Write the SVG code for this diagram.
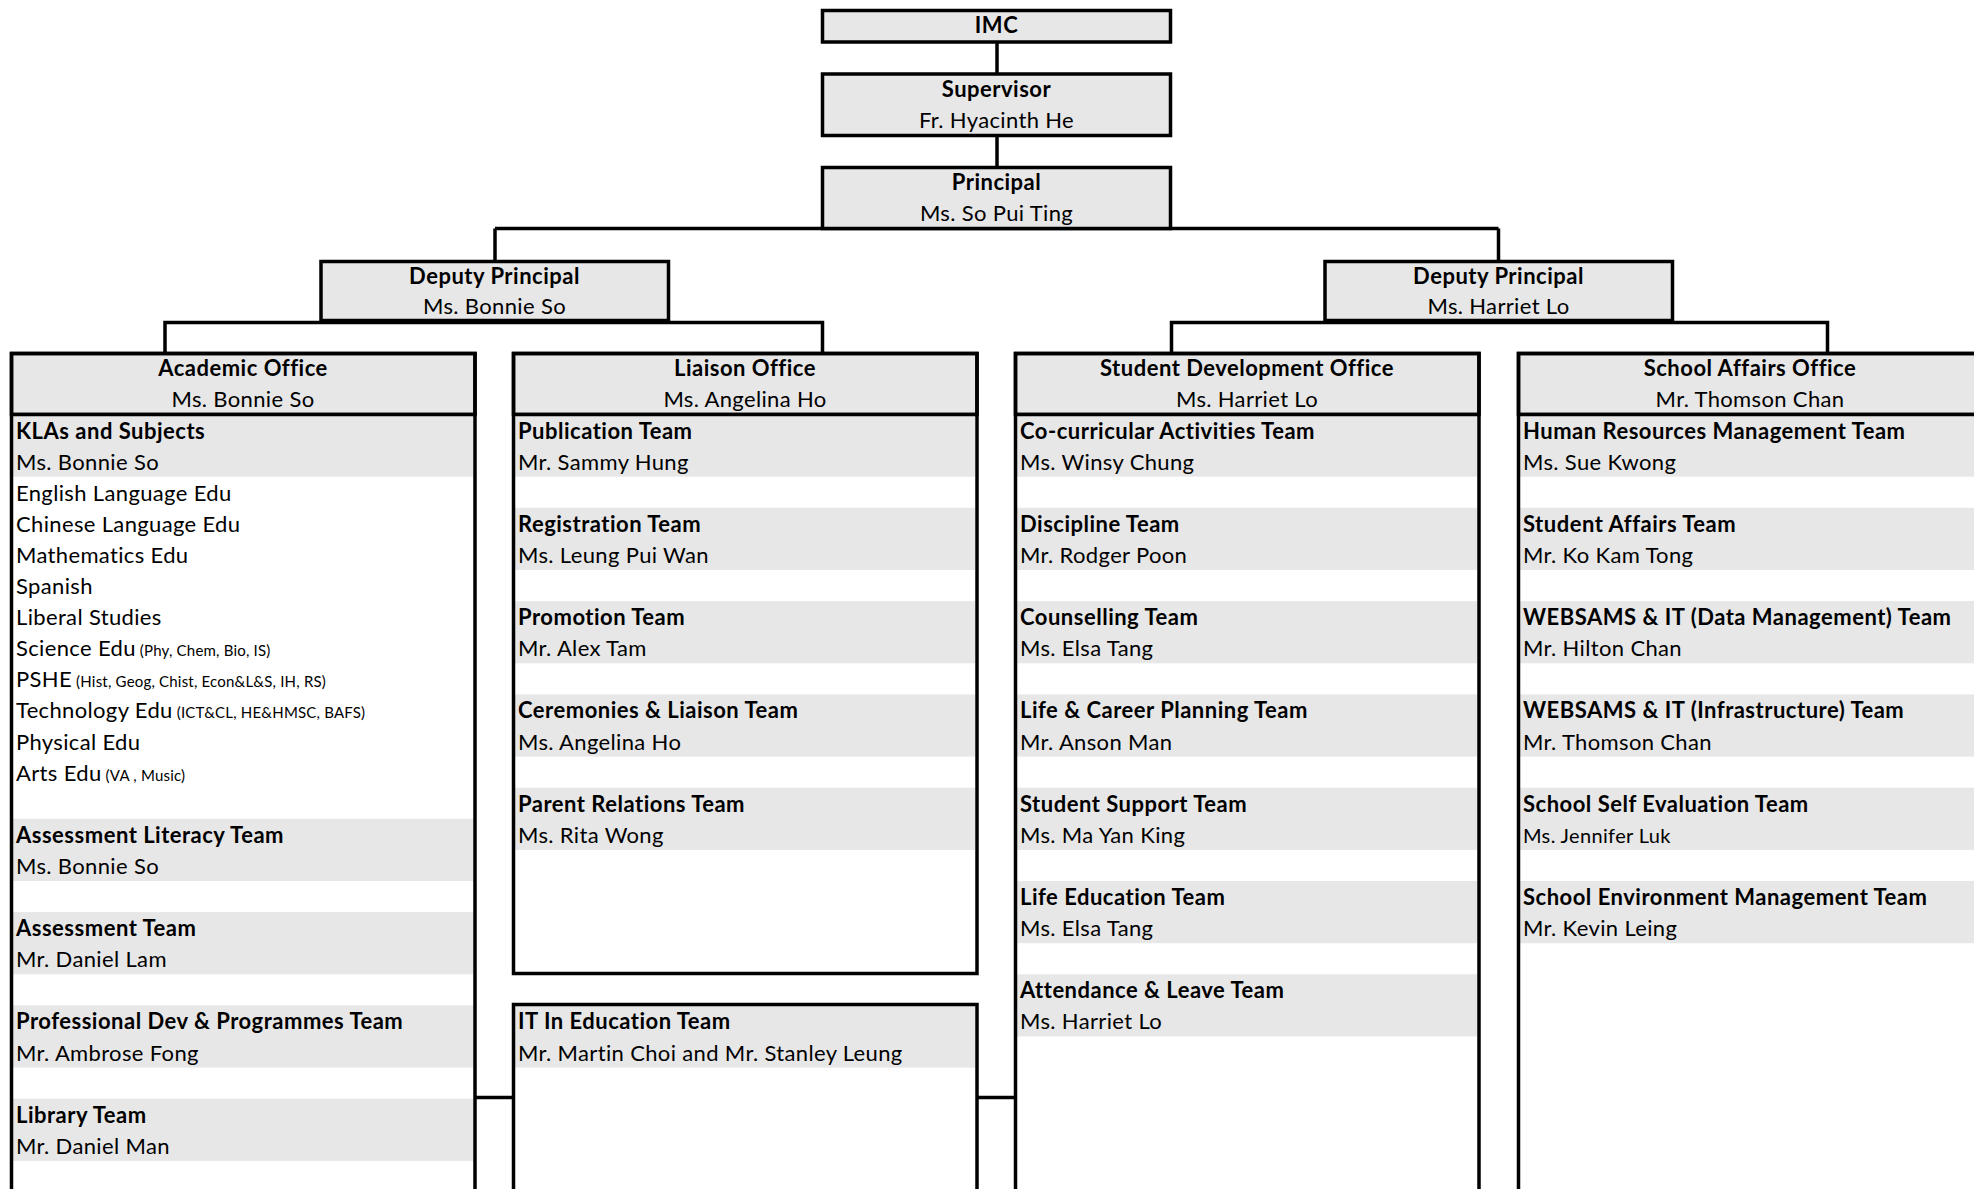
<svg xmlns="http://www.w3.org/2000/svg" width="1974" height="1189" viewBox="0 0 1974 1189">
<style>
  text { font-family: Lato, "Liberation Sans", sans-serif; font-size: 22px; letter-spacing: 0.35px; fill: #000; }
  .b { font-weight: bold; letter-spacing: 0.5px; }
  .c { text-anchor: middle; }
  .s { font-size: 15px; letter-spacing: 0.2px; }
  .sm { font-size: 20px; }
  .box { fill: #e7e7e7; stroke: #000; stroke-width: 3.5; }
  .frame { fill: none; stroke: #000; stroke-width: 3.5; }
  .band { fill: #e7e7e7; }
  .ln { fill: none; stroke: #000; stroke-width: 3.5; }
</style>
<rect width="1974" height="1189" fill="#fff"/>

<g id="connectors">
  <line class="ln" x1="997" y1="42" x2="997" y2="74"/>
  <line class="ln" x1="997" y1="135.5" x2="997" y2="167.5"/>
  <line class="ln" x1="495" y1="228.5" x2="1498.5" y2="228.5"/>
  <line class="ln" x1="495" y1="228.5" x2="495" y2="261.5"/>
  <line class="ln" x1="1498.5" y1="228.5" x2="1498.5" y2="261.5"/>
  <path class="ln" d="M165,353.5 V322.5 H822.5 V353.5"/>
  <path class="ln" d="M1171.5,353.5 V322.5 H1827.5 V353.5"/>
  <line class="ln" x1="475" y1="1097.5" x2="513.5" y2="1097.5"/>
  <line class="ln" x1="977" y1="1097.5" x2="1015.5" y2="1097.5"/>
</g>

<g id="imc">
  <rect class="box" x="822.5" y="10.5" width="348" height="31.5"/>
  <text class="b c" x="996.5" y="33">IMC</text>
</g>
<g id="supervisor">
  <rect class="box" x="822.5" y="74" width="348" height="61.5"/>
  <text class="b c" x="996.5" y="97">Supervisor</text>
  <text class="c" x="996.5" y="128">Fr. Hyacinth He</text>
</g>
<g id="principal">
  <rect class="box" x="822.5" y="167.5" width="348" height="61"/>
  <text class="b c" x="996.5" y="190">Principal</text>
  <text class="c" x="996.5" y="221">Ms. So Pui Ting</text>
</g>
<g id="deputy-left">
  <rect class="box" x="321" y="261.5" width="347.5" height="59"/>
  <text class="b c" x="494.5" y="283.5">Deputy Principal</text>
  <text class="c" x="494.5" y="314">Ms. Bonnie So</text>
</g>
<g id="deputy-right">
  <rect class="box" x="1325" y="261.5" width="347.5" height="59"/>
  <text class="b c" x="1498.5" y="283.5">Deputy Principal</text>
  <text class="c" x="1498.5" y="314">Ms. Harriet Lo</text>
</g>

<!-- Academic Office -->
<g id="academic-office">
  <rect class="box" x="11.5" y="353.5" width="463.5" height="61"/>
  <rect class="band" x="13" y="414.5" width="460" height="62.2"/>
  <rect class="band" x="13" y="818.8" width="460" height="62.2"/>
  <rect class="band" x="13" y="912.1" width="460" height="62.2"/>
  <rect class="band" x="13" y="1005.4" width="460" height="62.2"/>
  <rect class="band" x="13" y="1098.7" width="460" height="62.2"/>
  <path class="frame" d="M11.5,1200 V353.5 H475 V1200"/>
  <line class="ln" x1="11.5" y1="414.5" x2="475" y2="414.5"/>
  <text class="b c" x="243" y="375.5">Academic Office</text>
  <text class="c" x="243" y="406.5">Ms. Bonnie So</text>
  <text class="b" x="16" y="438.5">KLAs and Subjects</text>
  <text x="16" y="469.6">Ms. Bonnie So</text>
  <text x="16" y="500.7">English Language Edu</text>
  <text x="16" y="531.8">Chinese Language Edu</text>
  <text x="16" y="562.9">Mathematics Edu</text>
  <text x="16" y="594">Spanish</text>
  <text x="16" y="625.1">Liberal Studies</text>
  <text x="16" y="656.2">Science Edu<tspan class="s"> (Phy, Chem, Bio, IS)</tspan></text>
  <text x="16" y="687.3">PSHE<tspan class="s"> (Hist, Geog, Chist, Econ&amp;L&amp;S, IH, RS)</tspan></text>
  <text x="16" y="718.4">Technology Edu<tspan class="s"> (ICT&amp;CL, HE&amp;HMSC, BAFS)</tspan></text>
  <text x="16" y="749.5">Physical Edu</text>
  <text x="16" y="780.6">Arts Edu<tspan class="s"> (VA , Music)</tspan></text>
  <text class="b" x="16" y="842.8">Assessment Literacy Team</text>
  <text x="16" y="873.9">Ms. Bonnie So</text>
  <text class="b" x="16" y="936.1">Assessment Team</text>
  <text x="16" y="967.2">Mr. Daniel Lam</text>
  <text class="b" x="16" y="1029.4">Professional Dev &amp; Programmes Team</text>
  <text x="16" y="1060.5">Mr. Ambrose Fong</text>
  <text class="b" x="16" y="1122.7">Library Team</text>
  <text x="16" y="1153.8">Mr. Daniel Man</text>
</g>

<!-- Liaison Office -->
<g id="liaison-office">
  <rect class="box" x="513.5" y="353.5" width="463.5" height="61"/>
  <rect class="band" x="515" y="414.5" width="460" height="62.2"/>
  <rect class="band" x="515" y="507.8" width="460" height="62.2"/>
  <rect class="band" x="515" y="601.1" width="460" height="62.2"/>
  <rect class="band" x="515" y="694.4" width="460" height="62.2"/>
  <rect class="band" x="515" y="787.7" width="460" height="62.2"/>
  <rect class="frame" x="513.5" y="353.5" width="463.5" height="620"/>
  <line class="ln" x1="513.5" y1="414.5" x2="977" y2="414.5"/>
  <text class="b c" x="745" y="375.5">Liaison Office</text>
  <text class="c" x="745" y="406.5">Ms. Angelina Ho</text>
  <text class="b" x="518" y="438.5">Publication Team</text>
  <text x="518" y="469.6">Mr. Sammy Hung</text>
  <text class="b" x="518" y="531.8">Registration Team</text>
  <text x="518" y="562.9">Ms. Leung Pui Wan</text>
  <text class="b" x="518" y="625.1">Promotion Team</text>
  <text x="518" y="656.2">Mr. Alex Tam</text>
  <text class="b" x="518" y="718.4">Ceremonies &amp; Liaison Team</text>
  <text x="518" y="749.5">Ms. Angelina Ho</text>
  <text class="b" x="518" y="811.7">Parent Relations Team</text>
  <text x="518" y="842.8">Ms. Rita Wong</text>
</g>

<g id="it-education">
  <rect class="band" x="515" y="1005.4" width="460" height="62.2"/>
  <path class="frame" d="M513.5,1200 V1004.5 H977 V1200"/>
  <text class="b" x="518" y="1029.4">IT In Education Team</text>
  <text x="518" y="1060.5">Mr. Martin Choi and Mr. Stanley Leung</text>
</g>

<!-- Student Development Office -->
<g id="student-development-office">
  <rect class="box" x="1015.5" y="353.5" width="463.5" height="61"/>
  <rect class="band" x="1017" y="414.5" width="460" height="62.2"/>
  <rect class="band" x="1017" y="507.8" width="460" height="62.2"/>
  <rect class="band" x="1017" y="601.1" width="460" height="62.2"/>
  <rect class="band" x="1017" y="694.4" width="460" height="62.2"/>
  <rect class="band" x="1017" y="787.7" width="460" height="62.2"/>
  <rect class="band" x="1017" y="881" width="460" height="62.2"/>
  <rect class="band" x="1017" y="974.3" width="460" height="62.2"/>
  <path class="frame" d="M1015.5,1200 V353.5 H1479 V1200"/>
  <line class="ln" x1="1015.5" y1="414.5" x2="1479" y2="414.5"/>
  <text class="b c" x="1247" y="375.5">Student Development Office</text>
  <text class="c" x="1247" y="406.5">Ms. Harriet Lo</text>
  <text class="b" x="1020" y="438.5">Co-curricular Activities Team</text>
  <text x="1020" y="469.6">Ms. Winsy Chung</text>
  <text class="b" x="1020" y="531.8">Discipline Team</text>
  <text x="1020" y="562.9">Mr. Rodger Poon</text>
  <text class="b" x="1020" y="625.1">Counselling Team</text>
  <text x="1020" y="656.2">Ms. Elsa Tang</text>
  <text class="b" x="1020" y="718.4">Life &amp; Career Planning Team</text>
  <text x="1020" y="749.5">Mr. Anson Man</text>
  <text class="b" x="1020" y="811.7">Student Support Team</text>
  <text x="1020" y="842.8">Ms. Ma Yan King</text>
  <text class="b" x="1020" y="905">Life Education Team</text>
  <text x="1020" y="936.1">Ms. Elsa Tang</text>
  <text class="b" x="1020" y="998.3">Attendance &amp; Leave Team</text>
  <text x="1020" y="1029.4">Ms. Harriet Lo</text>
</g>

<!-- School Affairs Office -->
<g id="school-affairs-office">
  <rect class="box" x="1518.5" y="353.5" width="463.5" height="61"/>
  <rect class="band" x="1520" y="414.5" width="460" height="62.2"/>
  <rect class="band" x="1520" y="507.8" width="460" height="62.2"/>
  <rect class="band" x="1520" y="601.1" width="460" height="62.2"/>
  <rect class="band" x="1520" y="694.4" width="460" height="62.2"/>
  <rect class="band" x="1520" y="787.7" width="460" height="62.2"/>
  <rect class="band" x="1520" y="881" width="460" height="62.2"/>
  <path class="frame" d="M1518.5,1200 V353.5 H1982 V1200"/>
  <line class="ln" x1="1518.5" y1="414.5" x2="1982" y2="414.5"/>
  <text class="b c" x="1750" y="375.5">School Affairs Office</text>
  <text class="c" x="1750" y="406.5">Mr. Thomson Chan</text>
  <text class="b" x="1523" y="438.5">Human Resources Management Team</text>
  <text x="1523" y="469.6">Ms. Sue Kwong</text>
  <text class="b" x="1523" y="531.8">Student Affairs Team</text>
  <text x="1523" y="562.9">Mr. Ko Kam Tong</text>
  <text class="b" x="1523" y="625.1">WEBSAMS &amp; IT (Data Management) Team</text>
  <text x="1523" y="656.2">Mr. Hilton Chan</text>
  <text class="b" x="1523" y="718.4">WEBSAMS &amp; IT (Infrastructure) Team</text>
  <text x="1523" y="749.5">Mr. Thomson Chan</text>
  <text class="b" x="1523" y="811.7">School Self Evaluation Team</text>
  <text class="sm" x="1523" y="842.8">Ms. Jennifer Luk</text>
  <text class="b" x="1523" y="905">School Environment Management Team</text>
  <text x="1523" y="936.1">Mr. Kevin Leing</text>
</g>
</svg>
